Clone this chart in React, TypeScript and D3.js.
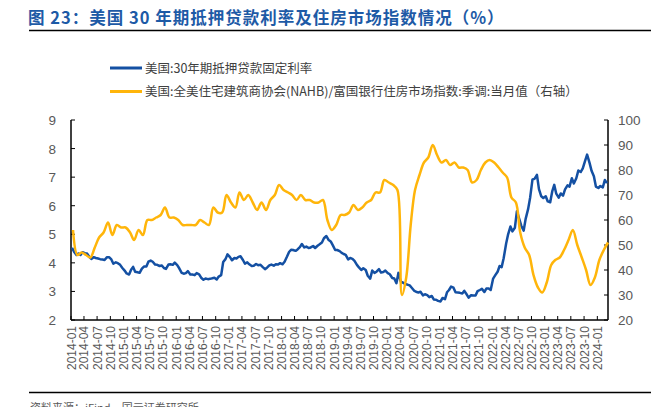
import * as d3 from "d3";

const W = 653;
const H = 407;
const PLOT = { left: 71, right: 608, top: 120, bottom: 320 };

const BLUE = "#1450a3";
const YELLOW = "#ffb50a";
const GREY = "#595959";
const CJK = "'Noto Sans CJK SC', 'Liberation Sans', sans-serif";
const NUM = "'Liberation Sans', Arial, sans-serif";

// 30y fixed mortgage rate (%), two readings per month (early, late)
const rate2014 = [4.53, 4.39, 4.28, 4.33, 4.28, 4.37, 4.34, 4.33, 4.21, 4.14, 4.2, 4.17, 4.15, 4.13, 4.12, 4.1, 4.2, 4.2, 4.12, 3.97, 4.02, 3.99, 3.93, 3.83];
const rate2015 = [3.73, 3.63, 3.59, 3.76, 3.86, 3.69, 3.67, 3.65, 3.8, 3.87, 3.87, 4.04, 4.08, 4.04, 3.94, 3.93, 3.89, 3.91, 3.82, 3.79, 3.94, 3.95, 3.93, 4.01];
const rate2016 = [3.92, 3.81, 3.65, 3.62, 3.64, 3.71, 3.59, 3.59, 3.57, 3.64, 3.6, 3.48, 3.41, 3.45, 3.43, 3.44, 3.46, 3.48, 3.42, 3.52, 3.57, 4.03, 4.13, 4.3];
const rate2017 = [4.2, 4.09, 4.17, 4.15, 4.21, 4.23, 4.1, 3.97, 4.02, 3.95, 3.89, 3.9, 3.96, 3.92, 3.93, 3.86, 3.78, 3.83, 3.91, 3.94, 3.9, 3.95, 3.94, 3.99];
const rate2018 = [3.95, 4.04, 4.22, 4.38, 4.46, 4.45, 4.42, 4.47, 4.55, 4.66, 4.54, 4.57, 4.52, 4.54, 4.59, 4.52, 4.6, 4.65, 4.71, 4.86, 4.94, 4.81, 4.75, 4.62];
const rate2019 = [4.45, 4.45, 4.41, 4.35, 4.31, 4.28, 4.12, 4.17, 4.14, 4.07, 3.93, 3.84, 3.75, 3.81, 3.75, 3.55, 3.45, 3.73, 3.65, 3.69, 3.78, 3.66, 3.68, 3.73];
const rate2020 = [3.64, 3.6, 3.47, 3.45, 3.29, 3.65, 3.33, 3.31, 3.26, 3.24, 3.21, 3.13, 3.03, 2.99, 2.96, 2.99, 2.86, 2.9, 2.87, 2.8, 2.84, 2.72, 2.71, 2.67];
const rate2021 = [2.65, 2.77, 2.73, 2.97, 3.05, 3.17, 3.13, 2.97, 2.96, 2.95, 2.93, 3.02, 2.9, 2.78, 2.87, 2.86, 2.86, 3.01, 3.05, 3.09, 2.98, 3.1, 3.1, 3.05];
const rate2022 = [3.45, 3.56, 3.69, 3.89, 3.85, 4.16, 4.67, 5.0, 5.27, 5.1, 5.23, 5.81, 5.54, 5.3, 5.13, 5.55, 5.89, 6.29, 6.92, 6.94, 7.08, 6.58, 6.33, 6.27];
const rate2023 = [6.33, 6.15, 6.12, 6.5, 6.73, 6.42, 6.28, 6.43, 6.35, 6.57, 6.71, 6.67, 6.96, 6.78, 6.96, 7.23, 7.18, 7.31, 7.57, 7.79, 7.5, 7.22, 7.03, 6.67];
const rate2024 = [6.62, 6.69, 6.64, 6.9, 6.79];

// NAHB / Wells Fargo housing market index, monthly
const nahb2014 = [56, 46, 47, 46, 45, 49, 53, 55, 59, 54, 58, 57];
const nahb2015 = [57, 55, 52, 56, 54, 60, 60, 61, 62, 65, 61, 61];
const nahb2016 = [60, 58, 58, 58, 58, 60, 59, 58, 65, 63, 63, 70];
const nahb2017 = [67, 65, 71, 68, 70, 67, 64, 67, 64, 68, 70, 74];
const nahb2018 = [72, 71, 70, 68, 70, 68, 68, 67, 67, 68, 60, 56];
const nahb2019 = [58, 62, 62, 63, 66, 64, 65, 67, 68, 71, 71, 76];
const nahb2020 = [75, 74, 72, 30, 37, 58, 72, 78, 83, 85, 90, 86];
const nahb2021 = [83, 84, 82, 83, 81, 81, 80, 75, 76, 80, 83, 84];
const nahb2022 = [83, 81, 79, 77, 69, 67, 55, 49, 46, 38, 33, 31];
const nahb2023 = [35, 42, 44, 45, 48, 52, 56, 50, 45, 40, 34, 37];
const nahb2024 = [44, 48, 51];

const leftTicks = [2, 3, 4, 5, 6, 7, 8, 9];
const rightTicks = [20, 30, 40, 50, 60, 70, 80, 90, 100];
const quarterStarts = d3.timeMonth.every(3)!.range(new Date(2014, 0, 1), new Date(2024, 1, 1));

const rateYears = [rate2014, rate2015, rate2016, rate2017, rate2018, rate2019, rate2020, rate2021, rate2022, rate2023, rate2024];
const nahbYears = [nahb2014, nahb2015, nahb2016, nahb2017, nahb2018, nahb2019, nahb2020, nahb2021, nahb2022, nahb2023, nahb2024];

type Pt = { date: Date; v: number };

const ratePts: Pt[] = rateYears.flatMap((vals, yi) =>
  vals.map((v, i) => ({ date: new Date(2014 + yi, Math.floor(i / 2), i % 2 ? 22 : 8), v })),
);
const nahbPts: Pt[] = nahbYears.flatMap((vals, yi) =>
  vals.map((v, i) => ({ date: new Date(2014 + yi, i, 15), v })),
);

export default function App() {
  const x = d3
    .scaleTime()
    .domain([new Date(2014, 0, 1), new Date(2024, 2, 15)])
    .range([PLOT.left, PLOT.right]);
  const yL = d3.scaleLinear().domain([2, 9]).range([PLOT.bottom, PLOT.top]);
  const yR = d3.scaleLinear().domain([20, 100]).range([PLOT.bottom, PLOT.top]);

  const rateLine = d3
    .line<Pt>()
    .x((d) => x(d.date))
    .y((d) => yL(d.v));
  const nahbLine = d3
    .line<Pt>()
    .x((d) => x(d.date))
    .y((d) => yR(d.v))
    .curve(d3.curveCatmullRom.alpha(0.5));

  const fmt = d3.timeFormat("%Y-%m");

  return (
    <svg
      width={W}
      height={H}
      style={{ position: "absolute", left: 0, top: 0, background: "#fff" }}
    >
      {/* title */}
      <text
        x={28}
        y={24}
        fill="#1d5aa6"
        fontSize={16.5}
        fontWeight="bold"
        letterSpacing={1}
        fontFamily={CJK}
      >
        图 23：美国 30 年期抵押贷款利率及住房市场指数情况（%）
      </text>
      <line x1={29} x2={651} y1={30.5} y2={30.5} stroke="#000" strokeWidth={1.5} />

      {/* legend */}
      <line x1={110} x2={142} y1={68} y2={68} stroke={BLUE} strokeWidth={3} />
      <text x={145} y={72.5} fontSize={12.5} fill="#404040" fontFamily={CJK}>
        美国:30年期抵押贷款固定利率
      </text>
      <line x1={110} x2={142} y1={91.5} y2={91.5} stroke={YELLOW} strokeWidth={3} />
      <text x={145} y={96} fontSize={12.5} fill="#404040" fontFamily={CJK}>
        美国:全美住宅建筑商协会(NAHB)/富国银行住房市场指数:季调:当月值（右轴）
      </text>

      {/* axes */}
      <g stroke="#000" strokeWidth={1.5} fill="none">
        <line x1={PLOT.left} x2={PLOT.left} y1={PLOT.top} y2={PLOT.bottom} />
        <line x1={PLOT.right} x2={PLOT.right} y1={PLOT.top} y2={PLOT.bottom} />
        <line x1={PLOT.left} x2={PLOT.right} y1={PLOT.bottom} y2={PLOT.bottom} />
      </g>
      <g stroke="#000" strokeWidth={1}>
        {leftTicks.map((t) => (
          <line key={t} x1={PLOT.left} x2={PLOT.left + 4} y1={yL(t)} y2={yL(t)} />
        ))}
        {rightTicks.map((t) => (
          <line key={t} x1={PLOT.right - 4} x2={PLOT.right} y1={yR(t)} y2={yR(t)} />
        ))}
        {quarterStarts.map((d) => (
          <line key={+d} x1={x(d)} x2={x(d)} y1={PLOT.bottom} y2={PLOT.bottom - 4} />
        ))}
      </g>
      <g fill={GREY} fontFamily={NUM} fontSize={13.5}>
        {leftTicks.map((t) => (
          <text key={t} x={56} y={yL(t) + 5} textAnchor="end">
            {t}
          </text>
        ))}
        {rightTicks.map((t) => (
          <text key={t} x={618} y={yR(t) + 5}>
            {t}
          </text>
        ))}
      </g>
      <g fill={GREY} fontFamily={NUM} fontSize={12}>
        {quarterStarts.map((d) => {
          const cx = x(d) + 4.5;
          return (
            <text key={+d} transform={`translate(${cx},326) rotate(-90)`} textAnchor="end">
              {fmt(d)}
            </text>
          );
        })}
      </g>

      {/* series */}
      <path d={rateLine(ratePts) ?? ""} fill="none" stroke={BLUE} strokeWidth={2.5} strokeLinejoin="round" />
      <path d={nahbLine(nahbPts) ?? ""} fill="none" stroke={YELLOW} strokeWidth={2.5} strokeLinejoin="round" />

      {/* footer */}
      <line x1={29} x2={651} y1={392.5} y2={392.5} stroke="#000" strokeWidth={1.5} />
      <text x={30} y={412} fontSize={11} fill={GREY} fontFamily={CJK}>
        资料来源：iFind，国元证券研究所
      </text>
    </svg>
  );
}
